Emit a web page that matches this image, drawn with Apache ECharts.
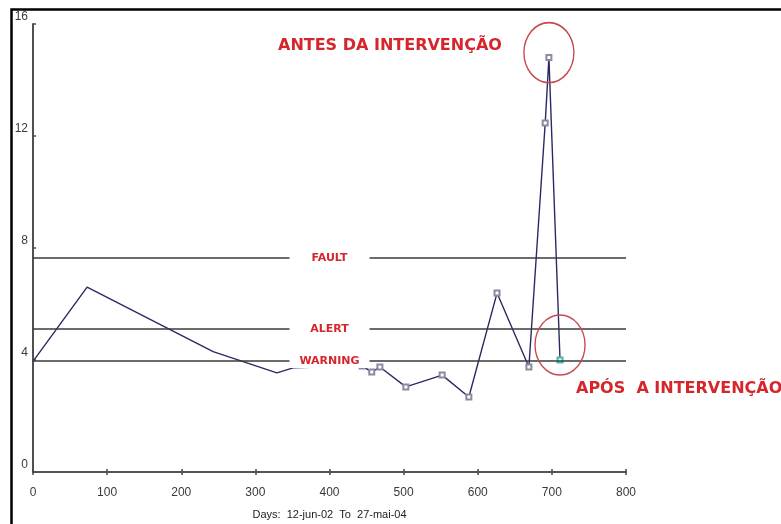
<!DOCTYPE html>
<html>
<head>
<meta charset="utf-8">
<script src="https://cdn.jsdelivr.net/npm/echarts@6/dist/echarts.min.js"></script>
<style>
  html, body { margin: 0; padding: 0; background: #fff; }
  #chart { width: 781px; height: 524px; }
</style>
</head>
<body>
<div id="chart"></div>
<script>
// Measurement history: day number since 12-jun-02 and measured level
const days   = [0,    73,  243,  329,  351,  444,  457,  468,  503,  552,  588,  626,  669,  691,   696,  711];
const values = [3.95, 6.6, 4.3,  3.54, 3.72, 3.79, 3.57, 3.75, 3.04, 3.46, 2.68, 6.39, 3.75, 12.46, 14.8, 4.0];

// Alarm thresholds
const limitNames  = ['FAULT', 'ALERT', 'WARNING'];
const limitValues = [7.64, 5.1, 3.96];

// Axis ranges and steps
const xRange = [0, 800];
const xStep = 100;
const yRange = [0, 16];
const yStep = 4;

const axisName = 'Days:  12-jun-02  To  27-mai-04';
const beforeText = 'ANTES DA INTERVENÇÃO';
const afterText = 'APÓS  A INTERVENÇÃO';

const RED = '#d4262c';
const RING = '#c64a4e';
const AXIS = '#4a4a4a';
const TICK_FONT = { fontFamily: 'Liberation Sans, Arial, sans-serif', fontSize: 12, color: '#3a3a3a' };

const lastIdx = days.length - 1;
const seriesData = days.map((d, i) => {
  const item = { value: [d, values[i]] };
  if (i === lastIdx) {
    item.itemStyle = { color: '#45b8b2', borderColor: '#45b8b2' };
  }
  return item;
});

const chart = echarts.init(document.getElementById('chart'), null, { renderer: 'canvas' });

const option = {
  backgroundColor: '#ffffff',
  animation: false,
  grid: {
    left: 33, right: 155, top: 24, bottom: 52,
    containLabel: false,
    outerBoundsMode: 'none'
  },
  xAxis: [
    {
      type: 'value',
      position: 'bottom',
      min: xRange[0], max: xRange[1], interval: xStep,
      name: axisName,
      nameLocation: 'middle',
      nameGap: 37,
      nameTextStyle: { fontFamily: 'Liberation Sans, Arial, sans-serif', fontSize: 11, color: '#222' },
      axisLine: { show: true, lineStyle: { color: AXIS, width: 1.6 } },
      axisTick: { show: true, inside: true, length: 3, lineStyle: { color: AXIS, width: 1.5 } },
      axisLabel: Object.assign({ margin: 15 }, TICK_FONT),
      splitLine: { show: false }
    },
    {
      type: 'value',
      position: 'top',
      min: xRange[0], max: xRange[1], interval: xStep,
      axisLine: { show: true, lineStyle: { color: AXIS, width: 1.6 } },
      axisTick: { show: true, inside: true, length: 3, lineStyle: { color: AXIS, width: 1.5 } },
      axisLabel: { show: false },
      splitLine: { show: false }
    }
  ],
  yAxis: [
    {
      type: 'value',
      position: 'left',
      min: yRange[0], max: yRange[1], interval: yStep,
      axisLine: { show: true, lineStyle: { color: AXIS, width: 1.6 } },
      axisTick: { show: true, inside: true, length: 3, lineStyle: { color: AXIS, width: 1.5 } },
      axisLabel: Object.assign({ margin: 5, verticalAlign: 'bottom', padding: [0, 0, 1, 0] }, TICK_FONT),
      splitLine: { show: false }
    },
    {
      type: 'value',
      position: 'right',
      min: yRange[0], max: yRange[1], interval: yStep,
      axisLine: { show: true, lineStyle: { color: AXIS, width: 1.6 } },
      axisTick: { show: true, inside: false, length: 3, lineStyle: { color: AXIS, width: 1.5 } },
      axisLabel: { show: false },
      splitLine: { show: false }
    }
  ],
  series: [
    {
      type: 'line',
      data: seriesData,
      xAxisIndex: 0,
      yAxisIndex: 0,
      z: 2,
      symbol: (val, params) => (params.dataIndex < 5 ? 'none' : 'emptyRect'),
      symbolSize: 5,
      showAllSymbol: true,
      lineStyle: { color: '#2a2a62', width: 1.4 },
      itemStyle: { color: '#8a8aa0', borderWidth: 1 },
      markLine: {
        silent: true,
        symbol: ['none', 'none'],
        z: 3,
        lineStyle: { color: '#3a3a3a', width: 1.6, type: 'solid' },
        label: {
          show: true,
          position: 'middle',
          distance: [0, -7],
          formatter: p => p.name,
          color: RED,
          fontFamily: 'DejaVu Sans, Verdana, sans-serif',
          fontSize: 11,
          fontWeight: 'bold',
          backgroundColor: '#ffffff',
          width: 80,
          height: 14,
          lineHeight: 14,
          align: 'center'
        },
        data: limitNames.map((n, i) => ({ name: n, yAxis: limitValues[i] }))
      },
      markPoint: {
        silent: true,
        symbol: 'circle',
        symbolSize: [50, 60],
        z: 4,
        itemStyle: { color: 'rgba(0,0,0,0)', borderColor: RING, borderWidth: 1.5 },
        label: { show: false },
        data: [
          { type: 'max', symbolOffset: [0, -5] },
          { coord: [days[lastIdx], values[lastIdx]], symbolOffset: [0, -15] }
        ]
      }
    }
  ],
  graphic: [
    {
      type: 'rect',
      left: 9, top: 7,
      shape: { width: 820, height: 600 },
      style: { fill: 'none', stroke: '#000', lineWidth: 2.5 },
      silent: true
    },
    {
      type: 'text',
      left: 278, top: 38,
      style: {
        text: beforeText,
        fill: RED,
        font: 'bold 16px "DejaVu Sans", Verdana, sans-serif'
      }
    },
    {
      type: 'text',
      left: 576, top: 381,
      style: {
        text: afterText,
        fill: RED,
        font: 'bold 16px "DejaVu Sans", Verdana, sans-serif'
      }
    }
  ]
};

chart.setOption(option);
</script>
</body>
</html>
